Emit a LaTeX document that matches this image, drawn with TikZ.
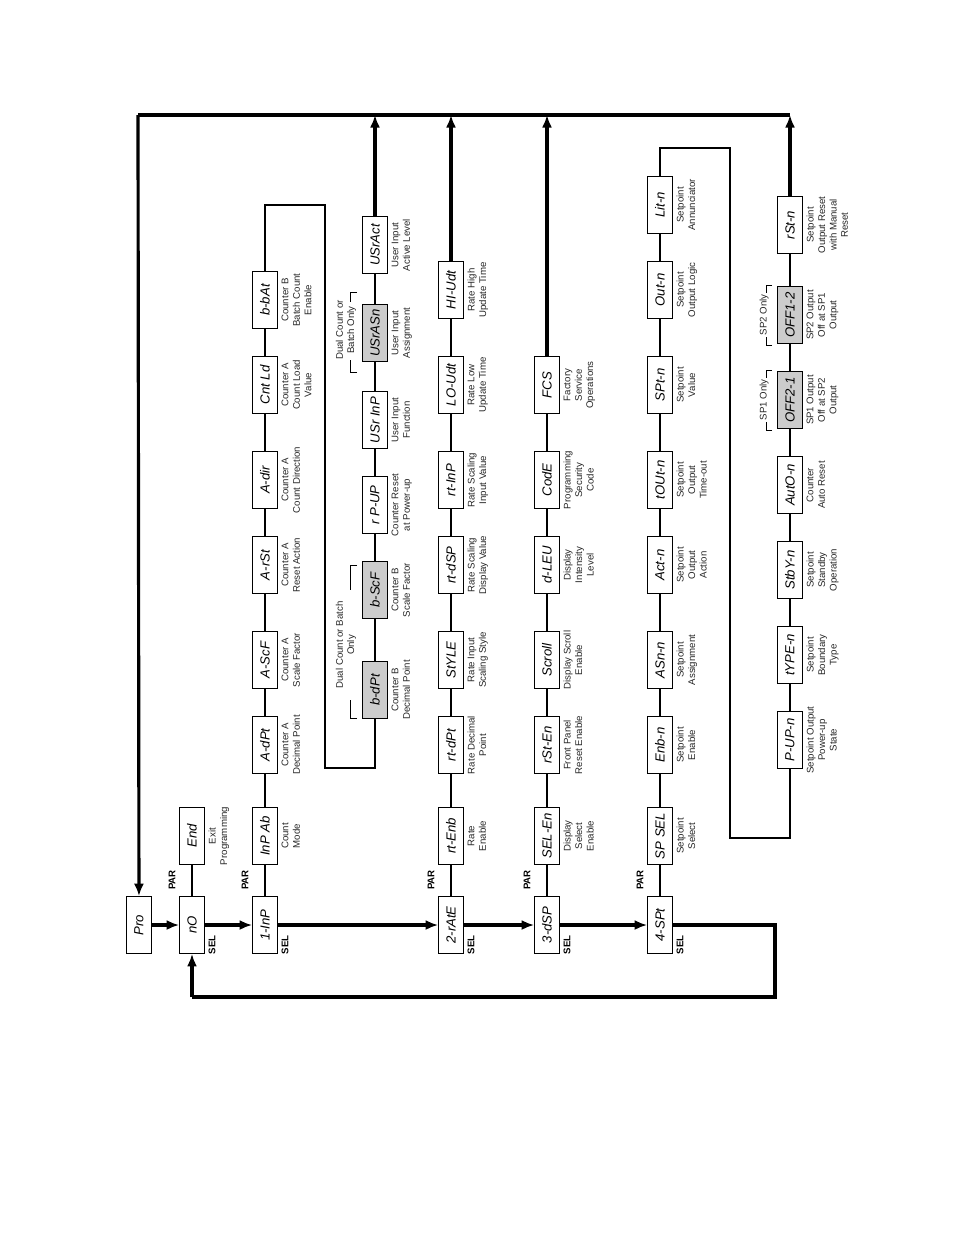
\documentclass[tikz,border=0pt]{standalone}
\usepackage{fontspec}
\setmainfont{Liberation Sans}
\usetikzlibrary{arrows.meta, positioning}

\begin{document}
\begin{tikzpicture}[x=0.02cm, y=-0.02cm]
\tikzstyle{disp}=[draw, rotate=90, minimum width=1.14cm, minimum height=0.5cm, inner sep=1pt, fill=white, font=\fontsize{7.5}{9}\selectfont\itshape]
\tikzstyle{opt}=[disp, fill=black!20]
\tikzstyle{lbl}=[rotate=90, anchor=north, align=center, inner sep=2pt, font=\fontsize{5.5}{6.5}\selectfont, text=black!85]
\tikzstyle{tag}=[rotate=90, font=\fontsize{5.5}{6.5}\selectfont\bfseries]
\tikzstyle{link}=[line width=1.3pt]
\tikzstyle{spine}=[line width=1.8pt, -{Latex[length=2.5mm,width=2mm]}]
\tikzstyle{up}=[line width=1.8pt, -{Latex[length=2.5mm,width=2mm]}]
\useasboundingbox (0,0) rectangle (954,1235);
% main column
\node[disp] (pro) at (139,925) {Pro};
\node[disp] (no) at (192,925) {nO};
\node[disp] (end) at (192,836) {End};
\node[lbl] at (end.south) {Exit\\Programming};
\node[tag] at (172,880) {PAR};
\node[tag] at (212,945) {SEL};
% row 1
\node[disp] (inp1) at (265,925) {1-InP};
\node[tag] at (245,880) {PAR};
\node[tag] at (285,945) {SEL};
\node[disp] (inpab) at (265,836) {InP Ab};
\node[disp] (adpt) at (265,745) {A-dPt};
\node[disp] (ascf) at (265,660) {A-ScF};
\node[disp] (arst) at (265,565) {A-rSt};
\node[disp] (adir) at (265,480) {A-dir};
\node[disp] (cntld) at (265,385) {Cnt Ld};
\node[disp] (bbat) at (265,300) {b-bAt};
\node[opt] (bdpt) at (375,690) {b-dPt};
\node[opt] (bscf) at (375,590) {b-ScF};
\node[disp] (rpup) at (375,505) {r P-UP};
\node[disp] (usrinp) at (375,420) {USr InP};
\node[opt] (usrasn) at (375,333) {USrASn};
\node[disp] (usract) at (375,245) {USrAct};
\node[lbl] at (inpab.south) {Count\\Mode};
\node[lbl] at (adpt.south) {Counter A\\Decimal Point};
\node[lbl] at (ascf.south) {Counter A\\Scale Factor};
\node[lbl] at (arst.south) {Counter A\\Reset Action};
\node[lbl] at (adir.south) {Counter A\\Count Direction};
\node[lbl] at (cntld.south) {Counter A\\Count Load\\Value};
\node[lbl] at (bbat.south) {Counter B\\Batch Count\\Enable};
\node[lbl] at (bdpt.south) {Counter B\\Decimal Point};
\node[lbl] at (bscf.south) {Counter B\\Scale Factor};
\node[lbl] at (rpup.south) {Counter Reset\\at Power-up};
\node[lbl] at (usrinp.south) {User Input\\Function};
\node[lbl] at (usrasn.south) {User Input\\Assignment};
\node[lbl] at (usract.south) {User Input\\Active Level};
% row 2
\node[disp] (rate2) at (451,925) {2-rAtE};
\node[tag] at (431,880) {PAR};
\node[tag] at (471,945) {SEL};
\node[disp] (rtenb) at (451,836) {rt-Enb};
\node[disp] (rtdpt) at (451,745) {rt-dPt};
\node[disp] (style) at (451,660) {StYLE};
\node[disp] (rtdsp) at (451,565) {rt-dSP};
\node[disp] (rtinp) at (451,480) {rt-InP};
\node[disp] (loudt) at (451,385) {LO-Udt};
\node[disp] (hiudt) at (451,290) {HI-Udt};
\node[lbl] at (rtenb.south) {Rate\\Enable};
\node[lbl] at (rtdpt.south) {Rate Decimal\\Point};
\node[lbl] at (style.south) {Rate Input\\Scaling Style};
\node[lbl] at (rtdsp.south) {Rate Scaling\\Display Value};
\node[lbl] at (rtinp.south) {Rate Scaling\\Input Value};
\node[lbl] at (loudt.south) {Rate Low\\Update Time};
\node[lbl] at (hiudt.south) {Rate High\\Update Time};
% row 3
\node[disp] (dsp3) at (547,925) {3-dSP};
\node[tag] at (527,880) {PAR};
\node[tag] at (567,945) {SEL};
\node[disp] (selen) at (547,836) {SEL-En};
\node[disp] (rsten) at (547,745) {rSt-En};
\node[disp] (scroll) at (547,660) {Scroll};
\node[disp] (dleu) at (547,565) {d-LEU};
\node[disp] (code) at (547,480) {CodE};
\node[disp] (fcs) at (547,385) {FCS};
\node[lbl] at (selen.south) {Display\\Select\\Enable};
\node[lbl] at (rsten.south) {Front Panel\\Reset Enable};
\node[lbl] at (scroll.south) {Display Scroll\\Enable};
\node[lbl] at (dleu.south) {Display\\Intensity\\Level};
\node[lbl] at (code.south) {Programming\\Security\\Code};
\node[lbl] at (fcs.south) {Factory\\Service\\Operations};
% row 4
\node[disp] (spt4) at (660,925) {4-SPt};
\node[tag] at (640,880) {PAR};
\node[tag] at (680,945) {SEL};
\node[disp] (spsel) at (660,836) {SP SEL};
\node[disp] (enbn) at (660,745) {Enb-n};
\node[disp] (asnn) at (660,660) {ASn-n};
\node[disp] (actn) at (660,565) {Act-n};
\node[disp] (toutn) at (660,480) {tOUt-n};
\node[disp] (sptn) at (660,385) {SPt-n};
\node[disp] (outn) at (660,290) {Out-n};
\node[disp] (litn) at (660,205) {Lit-n};
\node[disp] (pupn) at (790,740) {P-UP-n};
\node[disp] (typen) at (790,655) {tYPE-n};
\node[disp] (stbyn) at (790,570) {StbY-n};
\node[disp] (auton) at (790,485) {AutO-n};
\node[opt] (off21) at (790,400) {OFF2-1};
\node[opt] (off12) at (790,315) {OFF1-2};
\node[disp] (rstn) at (790,225) {rSt-n};
\node[lbl] at (spsel.south) {Setpoint\\Select};
\node[lbl] at (enbn.south) {Setpoint\\Enable};
\node[lbl] at (asnn.south) {Setpoint\\Assignment};
\node[lbl] at (actn.south) {Setpoint\\Output\\Action};
\node[lbl] at (toutn.south) {Setpoint\\Output\\Time-out};
\node[lbl] at (sptn.south) {Setpoint\\Value};
\node[lbl] at (outn.south) {Setpoint\\Output Logic};
\node[lbl] at (litn.south) {Setpoint\\Annunciator};
\node[lbl] at (pupn.south) {Setpoint Output\\Power-up\\State};
\node[lbl] at (typen.south) {Setpoint\\Boundary\\Type};
\node[lbl] at (stbyn.south) {Setpoint\\Standby\\Operation};
\node[lbl] at (auton.south) {Counter\\Auto Reset};
\node[lbl] at (off21.south) {SP1 Output\\Off at SP2\\Output};
\node[lbl] at (off12.south) {SP2 Output\\Off at SP1\\Output};
\node[lbl] at (rstn.south) {Setpoint\\Output Reset\\with Manual\\Reset};
% notes
\node[lbl, anchor=center] (dual1) at (346,645) {Dual Count or Batch\\Only};
\node[lbl, anchor=center] (dual2) at (346,330) {Dual Count or\\Batch Only};
\node[lbl, anchor=center] (sp1) at (764,400) {SP1 Only};
\node[lbl, anchor=center] (sp2) at (764,315) {SP2 Only};
\draw[thin] (357,718) -- (350,718) -- (350,700);
\draw[thin] (357,565) -- (350,565) -- (350,590);
\draw[thin] (357,372) -- (350,372) -- (350,360);
\draw[thin] (357,292) -- (350,292) -- (350,302);
\draw[thin] (772,430) -- (766,430) -- (766,422);
\draw[thin] (772,370) -- (766,370) -- (766,378);
\draw[thin] (772,345) -- (766,345) -- (766,337);
\draw[thin] (772,285) -- (766,285) -- (766,293);
% turning points
\coordinate (top0) at (138,115);
\coordinate (top1) at (375,115);
\coordinate (top2) at (451,115);
\coordinate (top3) at (547,115);
\coordinate (top4) at (790,115);
\coordinate (lp1) at (265,205);
\coordinate (lp2) at (325,205);
\coordinate (lp3) at (325,768);
\coordinate (lp4) at (375,768);
\coordinate (sp1a) at (660,148);
\coordinate (sp1b) at (730,148);
\coordinate (sp1c) at (730,838);
\coordinate (sp1d) at (790,838);
\coordinate (bt1) at (775,925);
\coordinate (bt2) at (775,997);
\coordinate (bt3) at (192,997);
% connectors
\draw[spine] (pro) -- (no);
\draw[spine] (no) -- (inp1);
\draw[spine] (inp1) -- (rate2);
\draw[spine] (rate2) -- (dsp3);
\draw[spine] (dsp3) -- (spt4);
\draw[line width=1.8pt] (spt4) -- (bt1) -- (bt2) -- (bt3);
\draw[spine] (bt3) -- (no);
\draw[link] (no) -- (end);
\draw[link] (inp1) -- (inpab) -- (adpt) -- (ascf) -- (arst) -- (adir) -- (cntld) -- (bbat) -- (lp1) -- (lp2) -- (lp3) -- (lp4) -- (bdpt) -- (bscf) -- (rpup) -- (usrinp) -- (usrasn) -- (usract);
\draw[up] (usract) -- (top1);
\draw[link] (rate2) -- (rtenb) -- (rtdpt) -- (style) -- (rtdsp) -- (rtinp) -- (loudt) -- (hiudt);
\draw[up] (hiudt) -- (top2);
\draw[link] (dsp3) -- (selen) -- (rsten) -- (scroll) -- (dleu) -- (code) -- (fcs);
\draw[up] (fcs) -- (top3);
\draw[link] (spt4) -- (spsel) -- (enbn) -- (asnn) -- (actn) -- (toutn) -- (sptn) -- (outn) -- (litn) -- (sp1a) -- (sp1b) -- (sp1c) -- (sp1d) -- (pupn) -- (typen) -- (stbyn) -- (auton) -- (off21) -- (off12) -- (rstn);
\draw[up] (rstn) -- (top4);
\draw[line width=1.8pt] (top4) -- (top0);
\draw[spine] (top0) -- (pro);
\end{tikzpicture}
\end{document}
